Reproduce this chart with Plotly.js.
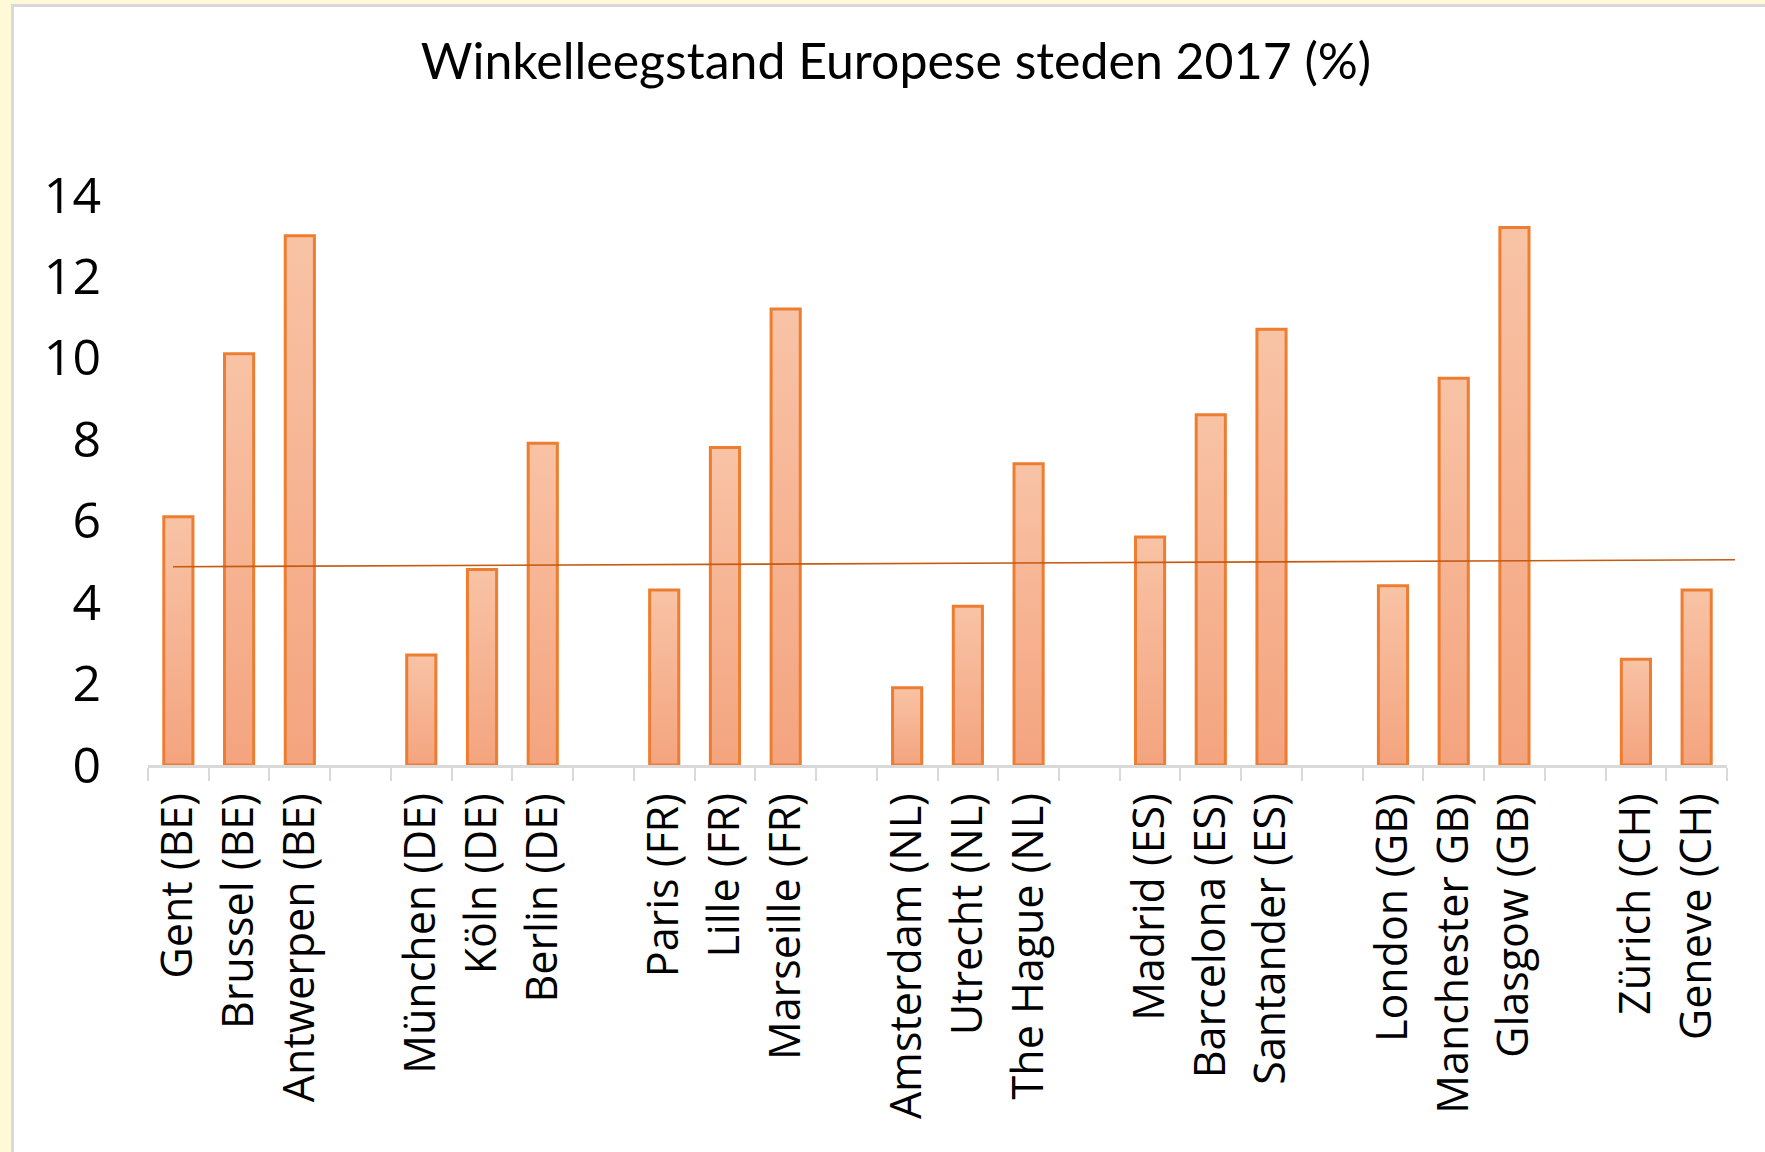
<!DOCTYPE html>
<html>
<head>
<meta charset="utf-8">
<script src="https://cdn.plot.ly/plotly-3.0.1.min.js"></script>
<style>
  html, body { margin: 0; padding: 0; }
  body { width: 1765px; height: 1152px; background: #FFF9D8; position: relative; overflow: hidden; }
  #panel { position: absolute; left: 11px; top: 4px; right: 0; bottom: 0; background: #ffffff;
           border-left: 3px solid #D9D9D9; border-top: 3px solid #D9D9D9; }
  #chart { position: absolute; left: 0; top: 0; width: 1765px; height: 1152px; }
</style>
</head>
<body>
<div id="panel"></div>
<div id="chart"></div>
<script>
// ---- data ----
var cities = [
  "Gent (BE)", "Brussel (BE)", "Antwerpen (BE)", " ",
  "München (DE)", "Köln (DE)", "Berlin (DE)", "  ",
  "Paris (FR)", "Lille (FR)", "Marseille (FR)", "   ",
  "Amsterdam (NL)", "Utrecht (NL)", "The Hague (NL)", "    ",
  "Madrid (ES)", "Barcelona (ES)", "Santander (ES)", "     ",
  "London (GB)", "Manchester GB)", "Glasgow (GB)", "      ",
  "Zürich (CH)", "Geneve (CH)"
];
var vacancy = [
  6.1, 10.1, 13.0, null,
  2.7, 4.8, 7.9, null,
  4.3, 7.8, 11.2, null,
  1.9, 3.9, 7.4, null,
  5.6, 8.6, 10.7, null,
  4.4, 9.5, 13.2, null,
  2.6, 4.3
];
var trendValues = [4.87, 5.04];   // trend line value at its left and right end
var yTicks = [0, 2, 4, 6, 8, 10, 12, 14];
var chartTitle = "Winkelleegstand Europese steden 2017 (%)";

// ---- chart ----
var W = 1765, H = 1152;
var mL = 148, mR = 38, mT = 195, mB = 387;
var plotW = W - mL - mR;

var trace = {
  type: "bar",
  x: cities,
  y: vacancy,
  marker: { color: "#F5B08E", line: { color: "#ED7D31", width: 3 } },
  hoverinfo: "x+y",
  showlegend: false
};

var layout = {
  width: W, height: H,
  margin: { l: mL, r: mR, t: mT, b: mB, pad: 0 },
  paper_bgcolor: "rgba(0,0,0,0)",
  plot_bgcolor: "rgba(0,0,0,0)",
  bargap: 0.52,
  title: {
    text: chartTitle,
    font: { family: "Lato, 'Open Sans', sans-serif", size: 50, color: "#000000" },
    xref: "container", x: 896 / W, xanchor: "center",
    yref: "container", y: 1 - 61 / H, yanchor: "middle"
  },
  xaxis: {
    type: "category",
    categoryorder: "array", categoryarray: cities,
    range: [-0.5, cities.length - 0.5],
    tickangle: -90,
    tickson: "boundaries",
    ticks: "outside", ticklen: 13, tickwidth: 2, tickcolor: "#D9D9D9",
    showline: true, linecolor: "#D9D9D9", linewidth: 3,
    showgrid: false, zeroline: false,
    ticklabelstandoff: 8,
    tickfont: { family: "'Open Sans', sans-serif", size: 43, color: "#000000" },
    fixedrange: true
  },
  yaxis: {
    range: [0, 14],
    tickvals: yTicks, ticktext: yTicks.map(String),
    ticks: "", showline: false, showgrid: false, zeroline: false,
    ticklabelstandoff: 46,
    tickfont: { family: "'Open Sans', sans-serif", size: 50, color: "#000000" },
    fixedrange: true
  },
  shapes: [{
    type: "line",
    xref: "paper", yref: "y",
    x0: (173 - mL) / plotW, x1: (1735 - mL) / plotW,
    y0: trendValues[0], y1: trendValues[1],
    line: { color: "#C55A11", width: 1.6 },
    layer: "above"
  }]
};

Plotly.newPlot("chart", [trace], layout, { displayModeBar: false, staticPlot: true }).then(function (gd) {
  // per-bar vertical gradient like the reference fill
  var svg = gd.querySelector("svg.main-svg");
  var ns = "http://www.w3.org/2000/svg";
  var defs = svg.querySelector("defs") || svg.insertBefore(document.createElementNS(ns, "defs"), svg.firstChild);
  var grad = document.createElementNS(ns, "linearGradient");
  grad.setAttribute("id", "barGrad");
  grad.setAttribute("x1", "0"); grad.setAttribute("y1", "0");
  grad.setAttribute("x2", "0"); grad.setAttribute("y2", "1");
  [["0", "#F8C3A5"], ["1", "#F4A47F"]].forEach(function (s) {
    var st = document.createElementNS(ns, "stop");
    st.setAttribute("offset", s[0]);
    st.setAttribute("stop-color", s[1]);
    grad.appendChild(st);
  });
  defs.appendChild(grad);
  gd.querySelectorAll(".barlayer .point path").forEach(function (p) {
    p.style.fill = "url(#barGrad)";
  });
});
</script>
</body>
</html>
